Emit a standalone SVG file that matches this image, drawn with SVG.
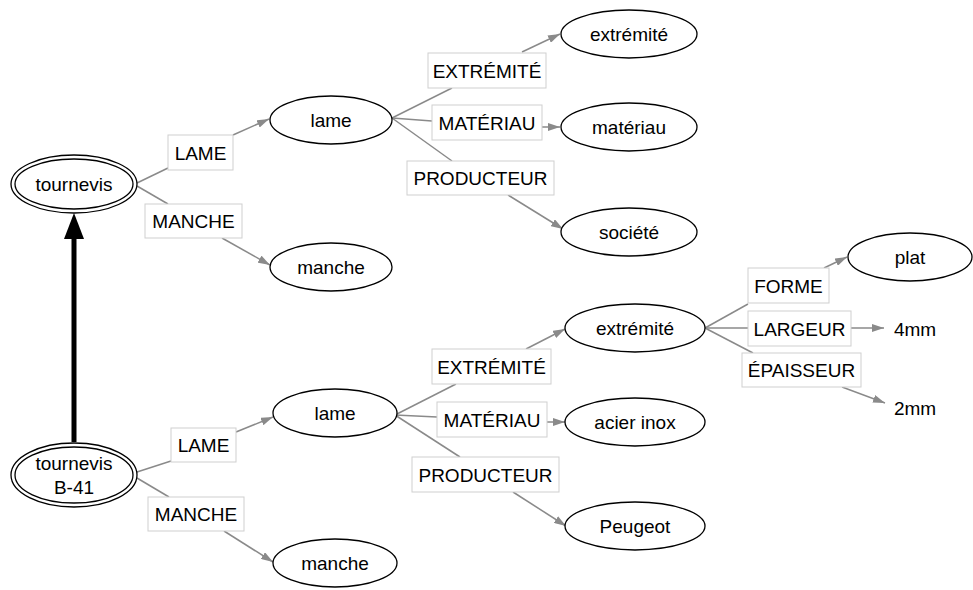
<svg xmlns="http://www.w3.org/2000/svg" width="973" height="590" viewBox="0 0 973 590">
<style>
text{font-family:"Liberation Sans",Arial,Helvetica,sans-serif;font-size:19px;fill:#000;text-anchor:middle;dominant-baseline:central}
.e{fill:#fff;stroke:#000;stroke-width:1.3}
.lb{fill:#fff;stroke:#cfcfcf;stroke-width:1}
.c{stroke:#8a8a8a;stroke-width:1.5;fill:none}
.a{marker-end:url(#ah)}
</style>
<defs>
<marker id="ah" viewBox="0 0 12 8" refX="12" refY="4" markerWidth="12" markerHeight="8" markerUnits="userSpaceOnUse" orient="auto">
<path d="M0,0 L12,4 L0,8 z" fill="#8a8a8a"/>
</marker>
</defs>
<rect width="973" height="590" fill="#fff"/>
<g id="connectors">
<line class="c" x1="137" y1="183" x2="168" y2="168"/>
<line class="c a" x1="233" y1="135" x2="269" y2="119"/>
<line class="c" x1="137" y1="186" x2="168" y2="204"/>
<line class="c a" x1="222" y1="238" x2="270" y2="265"/>
<line class="c" x1="392" y1="118" x2="452" y2="88"/>
<line class="c a" x1="522" y1="52" x2="560" y2="34"/>
<line class="c" x1="392" y1="118" x2="432" y2="121"/>
<line class="c a" x1="542" y1="127" x2="560" y2="127"/>
<line class="c" x1="392" y1="118" x2="452" y2="161"/>
<line class="c a" x1="508" y1="195" x2="563" y2="229"/>
<line class="c" x1="137" y1="472" x2="171" y2="461"/>
<line class="c a" x1="236" y1="432" x2="273" y2="417"/>
<line class="c" x1="137" y1="478" x2="169" y2="497"/>
<line class="c a" x1="224" y1="531" x2="273" y2="562"/>
<line class="c" x1="395" y1="415" x2="456" y2="384"/>
<line class="c a" x1="526" y1="349" x2="565" y2="329"/>
<line class="c" x1="395" y1="415" x2="437" y2="417"/>
<line class="c a" x1="547" y1="422" x2="565" y2="422"/>
<line class="c" x1="395" y1="415" x2="460" y2="457"/>
<line class="c a" x1="513" y1="492" x2="566" y2="526"/>
<line class="c" x1="705" y1="328" x2="748" y2="304"/>
<line class="c a" x1="824" y1="268" x2="847" y2="257"/>
<line class="c" x1="705" y1="328" x2="748" y2="328"/>
<line class="c a" x1="851" y1="328" x2="884" y2="328"/>
<line class="c" x1="705" y1="328" x2="753" y2="353"/>
<line class="c a" x1="842" y1="387" x2="885" y2="403"/>
<line x1="74" y1="442" x2="74" y2="236" stroke="#000" stroke-width="5"/>
<polygon points="74,213 64,239 84,239" fill="#000"/>
</g>
<g id="tournevis"><ellipse class="e" cx="74" cy="184" rx="63" ry="29"/><ellipse class="e" cx="74" cy="184" rx="59" ry="25"/><text x="74" y="184">tournevis</text></g>
<g id="lbl-lame1"><rect class="lb" x="168" y="135" width="65" height="35"/><text x="200.5" y="153">LAME</text></g>
<g id="lbl-manche1"><rect class="lb" x="145" y="204" width="97" height="34"/><text x="193.5" y="221">MANCHE</text></g>
<g id="lame1"><ellipse class="e" cx="331" cy="120" rx="61" ry="24"/><text x="331" y="120">lame</text></g>
<g id="manche1"><ellipse class="e" cx="331" cy="267" rx="61" ry="24"/><text x="331" y="267">manche</text></g>
<g id="lbl-extremite1"><rect class="lb" x="428" y="53" width="118" height="35"/><text x="487" y="71">EXTRÉMITÉ</text></g>
<g id="lbl-materiau1"><rect class="lb" x="432" y="105" width="110" height="35"/><text x="487" y="123">MATÉRIAU</text></g>
<g id="lbl-producteur1"><rect class="lb" x="407" y="161" width="147" height="34"/><text x="480.5" y="178">PRODUCTEUR</text></g>
<g id="extremite1"><ellipse class="e" cx="629" cy="34" rx="68" ry="24"/><text x="629" y="34">extrémité</text></g>
<g id="materiau1"><ellipse class="e" cx="629" cy="127" rx="68" ry="24"/><text x="629" y="127">matériau</text></g>
<g id="societe1"><ellipse class="e" cx="629" cy="232" rx="68" ry="24"/><text x="629" y="232">société</text></g>
<g id="tournevisB41"><ellipse class="e" cx="74" cy="475" rx="63" ry="32"/><ellipse class="e" cx="74" cy="475" rx="59" ry="28"/><text x="74" y="463">tournevis</text><text x="74" y="487">B-41</text></g>
<g id="lbl-lame2"><rect class="lb" x="171" y="428" width="65" height="34"/><text x="203.5" y="445">LAME</text></g>
<g id="lbl-manche2"><rect class="lb" x="148" y="497" width="96" height="34"/><text x="196" y="514">MANCHE</text></g>
<g id="lame2"><ellipse class="e" cx="335" cy="413" rx="62" ry="24"/><text x="335" y="413">lame</text></g>
<g id="manche2"><ellipse class="e" cx="335" cy="563" rx="62" ry="24"/><text x="335" y="563">manche</text></g>
<g id="lbl-extremite2"><rect class="lb" x="432" y="349" width="119" height="35"/><text x="491.5" y="367">EXTRÉMITÉ</text></g>
<g id="lbl-materiau2"><rect class="lb" x="437" y="402" width="110" height="35"/><text x="492" y="420">MATÉRIAU</text></g>
<g id="lbl-producteur2"><rect class="lb" x="412" y="457" width="147" height="35"/><text x="485.5" y="475">PRODUCTEUR</text></g>
<g id="extremite2"><ellipse class="e" cx="635" cy="328" rx="70" ry="24"/><text x="635" y="328">extrémité</text></g>
<g id="acier"><ellipse class="e" cx="635" cy="422" rx="70" ry="24"/><text x="635" y="422">acier inox</text></g>
<g id="peugeot"><ellipse class="e" cx="635" cy="526" rx="70" ry="24"/><text x="635" y="526">Peugeot</text></g>
<g id="lbl-forme"><rect class="lb" x="748" y="268" width="81" height="35"/><text x="788.5" y="286">FORME</text></g>
<g id="lbl-largeur"><rect class="lb" x="748" y="311" width="103" height="35"/><text x="799.5" y="329">LARGEUR</text></g>
<g id="lbl-epaisseur"><rect class="lb" x="742" y="353" width="119" height="34"/><text x="801.5" y="370">ÉPAISSEUR</text></g>
<g id="plat"><ellipse class="e" cx="910" cy="257" rx="62" ry="24"/><text x="910" y="257">plat</text></g>
<g id="v4mm"><text x="915" y="329">4mm</text></g>
<g id="v2mm"><text x="915" y="408">2mm</text></g>
</svg>
